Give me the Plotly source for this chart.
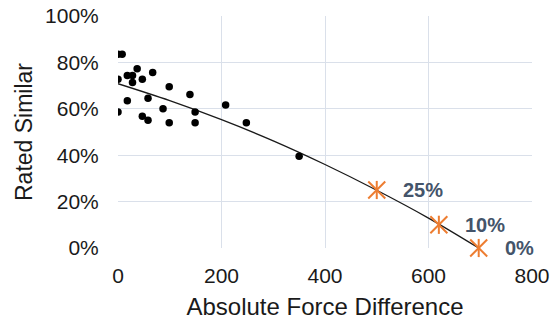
import plotly.graph_objects as go

force_diff = [0, 8, 37, 18, 28, 67, 0, 28, 47, 99, 139, 18, 58, 208, 0, 87, 149, 47, 58, 99, 149, 248, 350]
rated_similar = [83.5, 83.5, 77.3, 74.3, 74.3, 75.6, 72.7, 71.3, 72.7, 69.5, 66.2, 63.5, 64.5, 61.6,
                 58.6, 60.0, 58.6, 56.8, 55.1, 54.0, 54.0, 54.0, 39.5]

# Trend line points
trend_x = [0, 100, 200, 300, 400, 500, 600, 697]
trend_y = [70.8, 63.5, 55.3, 46.2, 36.0, 24.9, 12.9, 0.0]

# Highlighted predictions
star_x = [500, 620, 697]
star_y = [25, 10, 0]
star_labels = ["25%", "10%", "0%"]

x_ticks = [0, 200, 400, 600, 800]
y_ticks = [0, 20, 40, 60, 80, 100]
y_tick_labels = ["0%", "20%", "40%", "60%", "80%", "100%"]

FONT = "Liberation Sans, Arial, sans-serif"
ORANGE = "#ED7D31"
GRID = "#DAE0EA"
TXT = "#1a1a1a"

fig = go.Figure()

fig.add_trace(go.Scatter(
    x=trend_x, y=trend_y, mode="lines", line=dict(color="#1a1a1a", width=1.3, shape="spline"),
    hoverinfo="skip", showlegend=False))

fig.add_trace(go.Scatter(
    x=force_diff, y=rated_similar, mode="markers",
    marker=dict(color="black", size=7.5), showlegend=False))

fig.add_trace(go.Scatter(
    x=star_x, y=star_y, mode="markers",
    marker=dict(symbol="x-thin-open", size=17, color=ORANGE, line=dict(color=ORANGE, width=2)),
    showlegend=False, cliponaxis=False))
fig.add_trace(go.Scatter(
    x=star_x, y=star_y, mode="markers",
    marker=dict(symbol="line-ns-open", size=13, color=ORANGE, line=dict(color=ORANGE, width=2)),
    showlegend=False, cliponaxis=False))

for sx, sy, lab in zip(star_x, star_y, star_labels):
    fig.add_annotation(x=sx, y=sy, text=f"<b>{lab}</b>", showarrow=False,
                       xanchor="left", yanchor="middle", xshift=24,
                       font=dict(family=FONT, size=20, color="#44546A"))

fig.update_layout(
    width=553, height=322,
    margin=dict(l=118, r=21, t=16, b=74),
    paper_bgcolor="white", plot_bgcolor="white",
    font=dict(family=FONT, color=TXT),
    xaxis=dict(range=[0, 800], tickvals=x_ticks, showgrid=True, gridcolor=GRID, gridwidth=1,
               zeroline=False, showline=False, ticks="outside", ticklen=9, automargin=False,
               tickcolor="rgba(0,0,0,0)", tickfont=dict(size=21, family=FONT, color=TXT),
               title=dict(text="Absolute Force Difference", standoff=11,
                          font=dict(size=24, family=FONT, color=TXT))),
    yaxis=dict(range=[0, 100], tickvals=y_ticks, ticktext=y_tick_labels, showgrid=True, gridcolor=GRID,
               gridwidth=1, zeroline=False, showline=False, ticks="outside", ticklen=14,
               automargin=False,
               tickcolor="rgba(0,0,0,0)", tickfont=dict(size=21, family=FONT, color=TXT),
               title=dict(text="Rated Similar", standoff=6,
                          font=dict(size=23, family=FONT, color=TXT))),
)

# Remove the default 8px page margin so the figure fills the window exactly.
fig.write_html("out.html", config={"displayModeBar": False},
               post_script="document.body.style.margin='0px';")
